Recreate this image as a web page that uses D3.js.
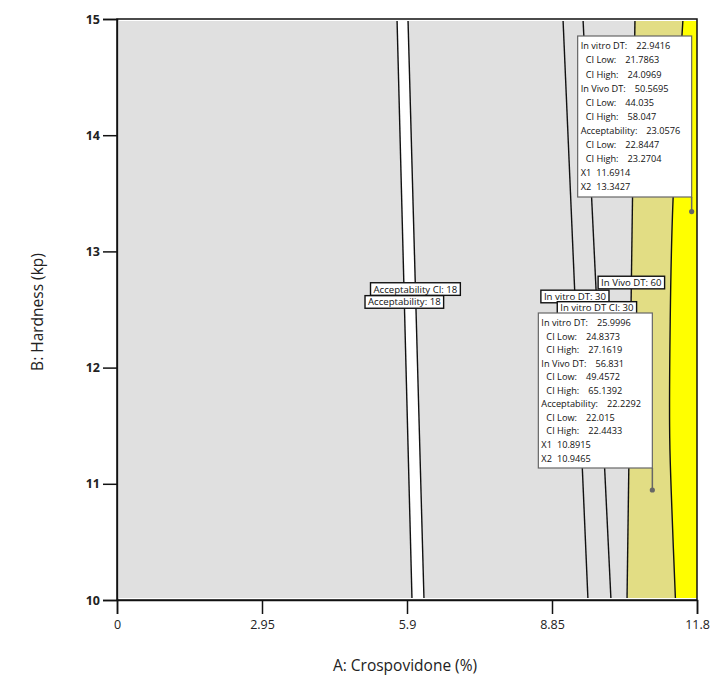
<!DOCTYPE html>
<html>
<head>
<meta charset="utf-8">
<script src="https://cdn.jsdelivr.net/npm/d3@7"></script>
<style>
  html, body { margin: 0; padding: 0; background: #fff; }
  svg { display: block; font-family: "Open Sans", "DejaVu Sans", sans-serif; }
</style>
</head>
<body>
<svg id="chart" width="710" height="682"></svg>
<script>
// ---------------- data ----------------
const xTicks = [0, 2.95, 5.9, 8.85, 11.8];
const xTickLabels = ["0", "2.95", "5.9", "8.85", "11.8"];
const yTicks = [10, 11, 12, 13, 14, 15];
const xDomain = [0, 11.8];
const yDomain = [10, 15];

// contour lines: [A (x), B (y)] points
const accLine     = [[5.697, 15], [6.002, 10]];
const accCILine   = [[5.920, 15], [6.246, 10]];
const vitroLine   = [[9.074, 15], [9.582, 10]];
const vitroCILine = [[9.481, 15], [10.050, 10]];
const vivoLine    = [[10.538, 15], [10.376, 10]];
const vivoCILine  = [[11.515, 15], [11.400, 14.2], [11.300, 13.3], [11.255, 12.4], [11.245, 11.4], [11.290, 10.77], [11.362, 10]];

// contour labels: text, line, B position
const contourLabels = [
  { text: "Acceptability CI: 18", line: accCILine, b: 12.676 },
  { text: "Acceptability: 18",    line: accLine,   b: 12.565 },
  { text: "In Vivo DT: 60",       line: vivoLine,  b: 12.732 },
  { text: "In vitro DT: 30",      line: vitroLine, b: 12.612 },
  { text: "In vitro DT CI: 30",   line: vitroCILine, b: 12.513 }
];

// flags
const flag1Labels = ["In vitro DT:", "CI Low:", "CI High:", "In Vivo DT:", "CI Low:", "CI High:", "Acceptability:", "CI Low:", "CI High:", "X1", "X2"];
const flag1Values = ["22.9416", "21.7863", "24.0969", "50.5695", "44.035", "58.047", "23.0576", "22.8447", "23.2704", "11.6914", "13.3427"];
const flag1Point = [11.6914, 13.3427];
const flag2Labels = flag1Labels;
const flag2Values = ["25.9996", "24.8373", "27.1619", "56.831", "49.4572", "65.1392", "22.2292", "22.015", "22.4433", "10.8915", "10.9465"];
const flag2Point = [10.8915, 10.9465];

// ---------------- layout ----------------
const svg = d3.select("#chart");
const pLeft = 117, pRight = 697, pTop = 19, pBottom = 600;
const x = d3.scaleLinear().domain(xDomain).range([pLeft, pRight]);
const y = d3.scaleLinear().domain(yDomain).range([pBottom, pTop]);

const colGray = "#e0e0e0", colKhaki = "#e2dd84", colYellow = "#ffff00";

// clip
svg.append("clipPath").attr("id", "plotclip")
  .append("rect").attr("x", pLeft + 2).attr("y", pTop + 2)
  .attr("width", pRight - pLeft - 2).attr("height", pBottom - pTop - 4);

const g = svg.append("g").attr("clip-path", "url(#plotclip)");

const sortByB = line => line.slice().sort((a, b) => b[1] - a[1]); // top (15) first
const lineGen = d3.line().x(d => x(d[0])).y(d => y(d[1])).curve(d3.curveCatmullRom.alpha(0.5));

function edgeTop(line) { return sortByB(line); }
function region(leftLine, rightLine) {
  const L = leftLine ? sortByB(leftLine) : [[xDomain[0], 15], [xDomain[0], 10]];
  const R = rightLine ? sortByB(rightLine).reverse() : [[xDomain[1], 10], [xDomain[1], 15]];
  const a = lineGen(L);
  const b = lineGen(R).replace(/^M/, "L");
  return a + b + "Z";
}

g.append("path").attr("d", region(null, accLine)).attr("fill", colGray);
g.append("path").attr("d", region(accCILine, vivoLine)).attr("fill", colGray);
g.append("path").attr("d", region(vivoLine, vivoCILine)).attr("fill", colKhaki);
g.append("path").attr("d", region(vivoCILine, null)).attr("fill", colYellow);

[accLine, accCILine, vitroLine, vitroCILine, vivoLine, vivoCILine].forEach(l => {
  g.append("path").attr("d", lineGen(sortByB(l))).attr("fill", "none")
    .attr("stroke", "#111").attr("stroke-width", 1.4);
});

// frame
svg.append("rect").attr("x", pLeft).attr("y", pTop)
  .attr("width", pRight - pLeft).attr("height", pBottom - pTop)
  .attr("fill", "none").attr("stroke", "#111").attr("stroke-width", 1.5);

// axes
const yAxis = svg.append("g").attr("transform", `translate(${pLeft},0)`)
  .call(d3.axisLeft(y).tickValues(yTicks).tickSize(14).tickPadding(3).tickFormat(d3.format("d")));
yAxis.selectAll("text").attr("font-size", 12.5).attr("font-weight", "bold")
  .attr("fill", "#222").attr("font-family", "'Open Sans', sans-serif");

const xAxis = svg.append("g").attr("transform", `translate(0,${pBottom})`)
  .call(d3.axisBottom(x).tickValues(xTicks).tickSize(14).tickPadding(6)
    .tickFormat((d, i) => xTickLabels[i]));
xAxis.selectAll("text").attr("font-size", 12.5).attr("fill", "#222")
  .attr("font-family", "'Open Sans', sans-serif");

[yAxis, xAxis].forEach(a => {
  a.select(".domain").attr("stroke", "#111").attr("stroke-width", 1.5);
  a.selectAll(".tick line").attr("stroke", "#111").attr("stroke-width", 1.5);
});

// axis titles
svg.append("text").attr("x", 405).attr("y", 671).attr("text-anchor", "middle")
  .attr("font-size", 15.5).attr("fill", "#222").text("A: Crospovidone (%)");
svg.append("text").attr("transform", "translate(43,312) rotate(-90)")
  .attr("text-anchor", "middle").attr("font-size", 15.5).attr("fill", "#222")
  .text("B: Hardness (kp)");

// contour labels
function xAtB(line, b) {
  const s = sortByB(line);
  for (let i = 0; i < s.length - 1; i++) {
    const p = s[i], q = s[i + 1];
    if (b <= p[1] && b >= q[1]) {
      const t = (p[1] - b) / (p[1] - q[1]);
      return p[0] + t * (q[0] - p[0]);
    }
  }
  return s[0][0];
}
const labG = svg.append("g");
contourLabels.forEach(l => {
  const cx = x(xAtB(l.line, l.b)), cy = y(l.b);
  const t = labG.append("text").attr("x", cx).attr("y", cy + 3.5)
    .attr("text-anchor", "middle").attr("font-size", 9.6).attr("fill", "#111").text(l.text);
  const bb = t.node().getBBox();
  labG.insert("rect", "text").attr("x", bb.x - 3).attr("y", cy - 6.3)
    .attr("width", bb.width + 6).attr("height", 12.6)
    .attr("fill", "#fff").attr("stroke", "#111").attr("stroke-width", 1.4);
});

// flags
function flag(point, labels, values, boxTopPx, boxBottomPx, width) {
  const px = x(point[0]), py = y(point[1]);
  const fg = svg.append("g");
  fg.append("line").attr("x1", px).attr("x2", px).attr("y1", boxBottomPx).attr("y2", py)
    .attr("stroke", "#666").attr("stroke-width", 1.5);
  fg.append("rect").attr("x", px - width).attr("y", boxTopPx)
    .attr("width", width).attr("height", boxBottomPx - boxTopPx)
    .attr("fill", "#fff").attr("stroke", "#666").attr("stroke-width", 1.2);
  fg.append("circle").attr("cx", px).attr("cy", py).attr("r", 2.6).attr("fill", "#666");
  const lh = (boxBottomPx - boxTopPx - 6) / labels.length;
  labels.forEach((lab, i) => {
    const indent = lab.startsWith("CI") ? 5 : 0;
    const ty = boxTopPx + 3 + lh * (i + 0.5) + 3.3;
    const t = fg.append("text").attr("x", px - width + 3 + indent).attr("y", ty)
      .attr("font-size", 9.2).attr("fill", "#111");
    t.append("tspan").text(lab);
    t.append("tspan").attr("dx", lab.startsWith("X") ? 5 : 9).text(values[i]);
  });
}
flag(flag1Point, flag1Labels, flag1Values, 36, 197, 114);
flag(flag2Point, flag2Labels, flag2Values, 313, 468, 114);
</script>
</body>
</html>
